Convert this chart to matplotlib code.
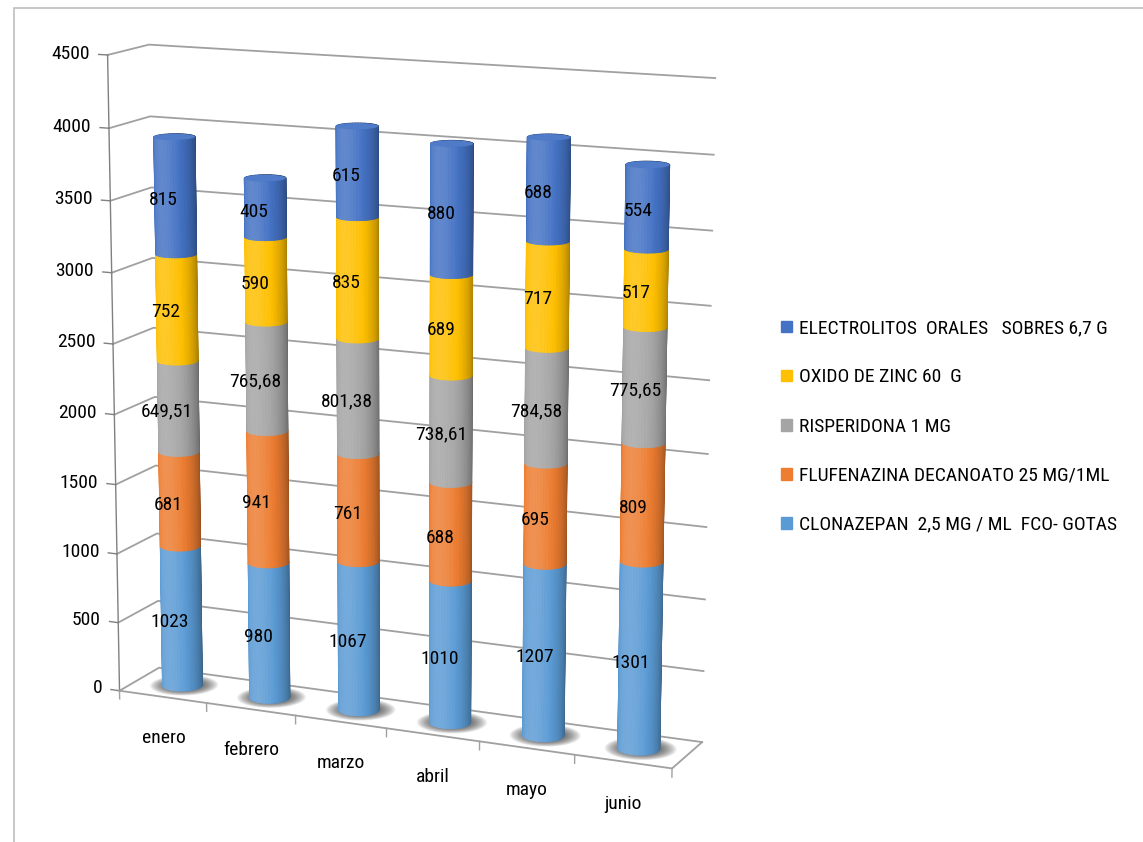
import numpy as np
import matplotlib.pyplot as plt
from matplotlib import font_manager
from matplotlib.patches import Rectangle
from matplotlib.colors import to_rgb
from mpl_toolkits.mplot3d import proj3d
from mpl_toolkits.mplot3d.art3d import Poly3DCollection

disponibles = {f.name for f in font_manager.fontManager.ttflist}
for fuente in ['Liberation Sans Narrow', 'Roboto Condensed', 'Open Sans Condensed',
               'DejaVu Sans Condensed', 'Liberation Sans']:
    if fuente in disponibles:
        break
plt.rcParams['font.family'] = [fuente, 'DejaVu Sans']

# Datos del grafico
meses = ['enero', 'febrero', 'marzo', 'abril', 'mayo', 'junio']
clonazepan = [1023, 980, 1067, 1010, 1207, 1301]
flufenazina = [681, 941, 761, 688, 695, 809]
risperidona = [649.51, 765.68, 801.38, 738.61, 784.58, 775.65]
oxido_zinc = [752, 590, 835, 689, 717, 517]
electrolitos = [815, 405, 615, 880, 688, 554]
nombres = ['CLONAZEPAN  2,5 MG / ML  FCO- GOTAS',
           'FLUFENAZINA DECANOATO 25 MG/1ML',
           'RISPERIDONA 1 MG',
           'OXIDO DE ZINC 60  G',
           'ELECTROLITOS  ORALES   SOBRES 6,7 G']
ticks_valor = [0, 500, 1000, 1500, 2000, 2500, 3000, 3500, 4000, 4500]

series = [clonazepan, flufenazina, risperidona, oxido_zinc, electrolitos]
colores = ['#5B9BD5', '#ED7D31', '#A5A5A5', '#FFC000', '#4472C4']

# geometria de la caja 3D
PROF = 0.9            # profundidad del piso
FX = 1.04             # escala fisica del eje de categorias
RX = 0.205            # radio del cilindro (unidades de categoria)
RY = RX * FX          # mismo radio fisico en profundidad
ZMAX = 4500
ANG_LUZ = np.deg2rad(-100)
GRIS = '#A0A0A0'
FS = 14


def etiqueta(v):
    return f"{v:g}".replace('.', ',')


def shade(base, f):
    base = np.array(to_rgb(base))
    if f <= 1:
        return tuple(base * f)
    return tuple(base + (1 - base) * (f - 1) * 1.6)


def segmento(ax, xc, yc, z0, z1, color, n=48):
    th = np.linspace(0, 2 * np.pi, n + 1)
    polys, cols = [], []
    for a, b in zip(th[:-1], th[1:]):
        xa, ya = xc + RX * np.cos(a), yc + RY * np.sin(a)
        xb, yb = xc + RX * np.cos(b), yc + RY * np.sin(b)
        polys.append([(xa, ya, z0), (xb, yb, z0), (xb, yb, z1), (xa, ya, z1)])
        f = 0.80 + 0.30 * np.cos(0.5 * (a + b) - ANG_LUZ)
        cols.append(shade(color, f))
    pc = Poly3DCollection(polys, facecolors=cols, edgecolors=cols, linewidths=0.6, zorder=3)
    ax.add_collection3d(pc)


def disco(ax, xc, yc, z, k, color, alpha=1.0, zorder=3, n=60):
    th = np.linspace(0, 2 * np.pi, n)
    pts = [list(zip(xc + k * RX * np.cos(th), yc + k * RY * np.sin(th), np.full(n, z)))]
    pc = Poly3DCollection(pts, facecolors=[color], edgecolors='none', alpha=alpha, zorder=zorder)
    ax.add_collection3d(pc)


fig = plt.figure(figsize=(11.43, 8.42), dpi=100)
fig.patches.append(Rectangle((0.012, -0.01), 1.0, 1.0, transform=fig.transFigure,
                             fill=False, edgecolor='#BFBFBF', lw=1.2))

ax = fig.add_axes([0.0045, 0.015, 0.68, 1.0], projection='3d', computed_zorder=False)
ax.set_proj_type('persp', focal_length=0.85)
ax.view_init(elev=13, azim=-66)
ax.set_axis_off()

x = np.arange(len(meses))
xl, xr = -0.5, len(meses) - 0.5
yc = PROF / 2
textos = []   # (x, y, z, texto, ha)

# cuadricula en pared izquierda y pared del fondo
for v in ticks_valor:
    ax.plot([xl, xl, xr], [0, PROF, PROF], [v, v, v], color=GRIS, lw=1.3, zorder=1)
    ax.plot([xl - 0.1, xl], [0, 0], [v, v], color='#808080', lw=1.0, zorder=1)
    textos.append((xl - 0.2, 0, v, str(v), 'right'))

# eje vertical y bordes del piso
ax.plot([xl, xl], [0, 0], [0, ZMAX], color='#808080', lw=1.0, zorder=1)
ax.plot([xl, xr, xr], [0, 0, PROF], [0, 0, 0], color=GRIS, lw=1.3, zorder=1)
for b in np.arange(len(meses) + 1) - 0.5:
    ax.plot([b, b], [0, 0], [0, -60], color=GRIS, lw=1.0, zorder=1)
for i, m in enumerate(meses):
    textos.append((i, 0, -300, m, 'center'))

# sombras difusas en el piso
for i in x:
    for k in np.linspace(1.7, 1.02, 9):
        disco(ax, i + 0.02, yc, 1, k, '#333333', alpha=0.10, zorder=2)

# cilindros apilados
for i in x:
    base = 0
    for vals, col in zip(series, colores):
        v = vals[i]
        segmento(ax, i, yc, base, base + v, col)
        textos.append((i, yc - RY - 0.05, base + v / 2, etiqueta(v), 'center'))
        base += v
    disco(ax, i, yc, base, 1.0, shade(colores[-1], 1.04), zorder=4)

ax.set_xlim(xl, xr)
ax.set_ylim(0, PROF)
ax.set_zlim(0, ZMAX)
aspecto = np.array([FX * (xr - xl), PROF, 6.8])
ax.set_box_aspect(aspecto, zoom=0.1224 * np.linalg.norm(aspecto))

# textos proyectados con la matriz de la vista 3D
fig.canvas.draw()
M = ax.get_proj()
W, H = fig.bbox.width, fig.bbox.height
for x3, y3, z3, s, ha in textos:
    xs, ys, _ = proj3d.proj_transform(x3, y3, z3, M)
    px, py = ax.transData.transform((xs, ys))
    fig.text(px / W, py / H, s, ha=ha, va='center', fontsize=FS)

handles = [Rectangle((0, 0), 1, 1, color=c) for c in colores[::-1]]
fig.legend(handles, nombres[::-1], loc='upper left', bbox_to_anchor=(0.6766, 0.630),
           frameon=False, fontsize=FS, labelspacing=1.6, handlelength=0.55,
           handleheight=0.55, handletextpad=0.35, borderaxespad=0)

fig.savefig('out.png', dpi=100)
